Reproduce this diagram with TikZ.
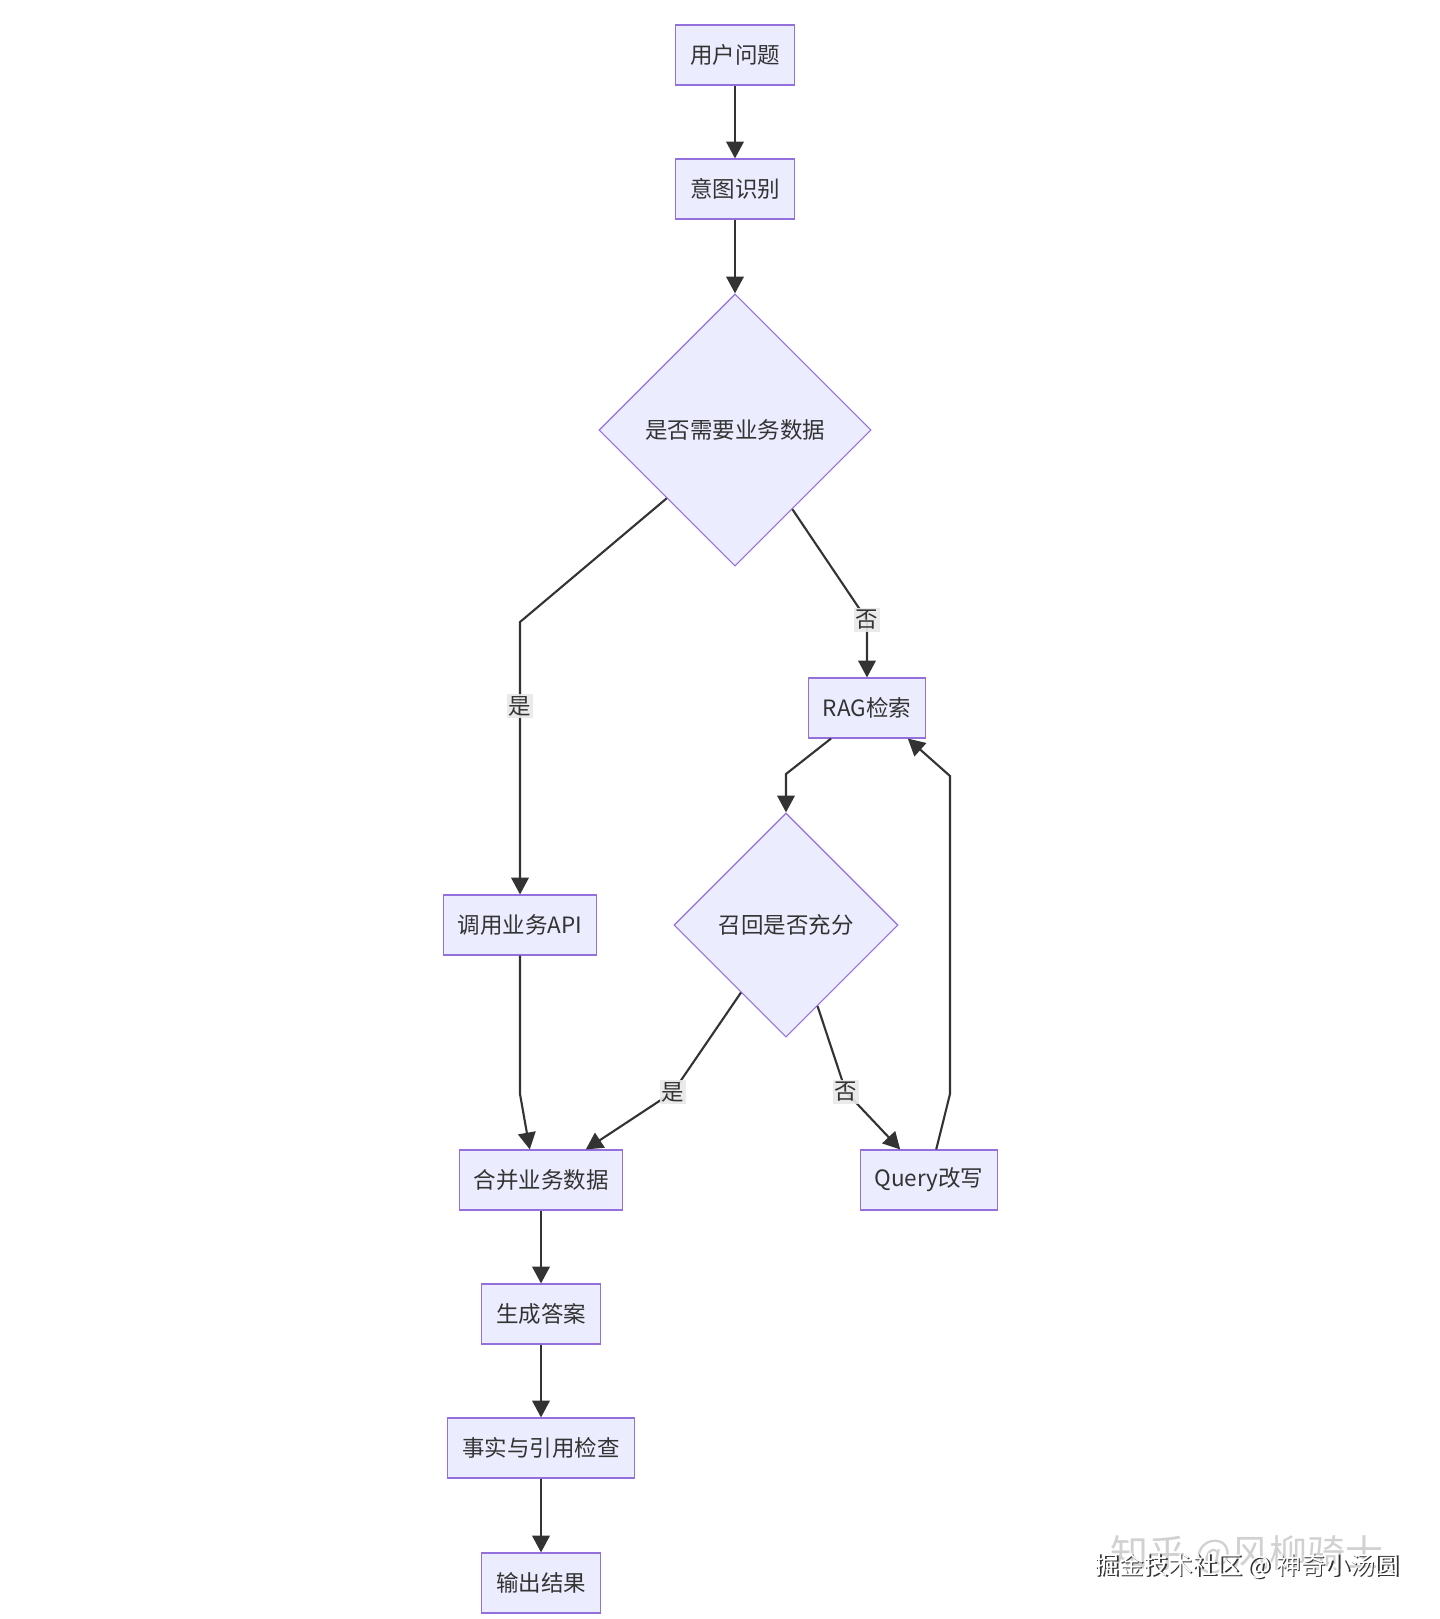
\documentclass[tikz,border=0pt]{standalone}
\usepackage{fontspec}
\setmainfont{Noto Sans CJK SC}
\usepackage{xcolor}
\usetikzlibrary{shapes.geometric,arrows.meta,calc}
\definecolor{nodefill}{HTML}{ECECFF}
\definecolor{nodeline}{HTML}{9370DB}
\definecolor{edgeline}{HTML}{333333}
\definecolor{lblfill}{HTML}{E8E8E8}

\begin{document}
\begin{tikzpicture}[x=0.025cm, y=-0.025cm,
    every node/.style={font=\fontsize{16}{19}\selectfont, text=edgeline},
    box/.style={draw=nodeline, fill=nodefill, line width=0.8pt, minimum height=1.5cm, inner xsep=0.36cm},
    decide/.style={diamond, draw=nodeline, fill=nodefill, line width=0.8pt, inner sep=0pt, aspect=1},
    flow/.style={draw=edgeline, line width=1.5pt, -{Triangle[length=12pt,width=12.5pt]}},
    lbl/.style={fill=lblfill, inner sep=1.5pt, fill opacity=0.9, text opacity=1},
    wmark/.style={font=\fontsize{17.5}{20}\selectfont}]
    \fill[white] (0,0) rectangle (1440,1619);
    \node[box] (ask) at (735,55) {用户问题};
    \node[box] (intent) at (735,189) {意图识别};
    \node[decide, minimum size=6.8cm] (need) at (735,430) {是否需要业务数据};
    \node[box] (api) at (520,925) {调用业务API};
    \node[box] (rag) at (867,708) {RAG检索};
    \node[decide, minimum size=5.6cm] (enough) at (786,925) {召回是否充分};
    \node[box] (merge) at (541,1180) {合并业务数据};
    \node[box] (rewrite) at (929,1180) {Query改写};
    \node[box] (answer) at (541,1314) {生成答案};
    \node[box] (check) at (541,1448) {事实与引用检查};
    \node[box] (result) at (541,1583) {输出结果};

    \coordinate (yesbend) at (520,622);
    \coordinate (nobend) at (867,620);
    \coordinate (ragbend) at (786,774);
    \coordinate (loopbot) at (950,1094);
    \coordinate (looptop) at (950,776);
    \coordinate (yes2) at (673,1092);
    \coordinate (no2) at (846,1092);
    \coordinate (apibend) at (520,1094);

    \draw[flow] (ask) -- (intent);
    \draw[flow] (intent) -- (need);
    \draw[flow] (need.south west) -- (yesbend) -- node[lbl, pos=0.31] {是} (api);
    \draw[flow] ($(need.south)!0.42!(need.east)$) -- (nobend) node[lbl] {否} -- (rag);
    \draw[flow] ([xshift=-0.9cm]rag.south) -- (ragbend) -- (enough);
    \draw[flow] ([xshift=0.18cm]rewrite.north) -- (loopbot) -- (looptop) -- ([xshift=1.02cm]rag.south);
    \draw[flow] ($(enough.south)!0.4!(enough.west)$) -- (yes2) node[lbl] {是} -- ([xshift=1.12cm]merge.north);
    \draw[flow] ($(enough.south)!0.28!(enough.east)$) -- (no2) node[lbl] {否} -- ([xshift=-0.72cm]rewrite.north);
    \draw[flow] (api) -- (apibend) -- ([xshift=-0.28cm]merge.north);
    \draw[flow] (merge) -- (answer);
    \draw[flow] (answer) -- (check);
    \draw[flow] (check) -- (result);

    \node[font=\fontsize{27}{30}\selectfont, text=black!18] (zhihu) at (1247,1555) {知乎 @风柳骑士};
    \node[wmark, text=black!80] (markshade) at (1248.5,1567.5) {掘金技术社区 @ 神奇小汤圆};
    \node[wmark, text=white] (juejin) at (1247,1566) {掘金技术社区 @ 神奇小汤圆};
\end{tikzpicture}
\end{document}
